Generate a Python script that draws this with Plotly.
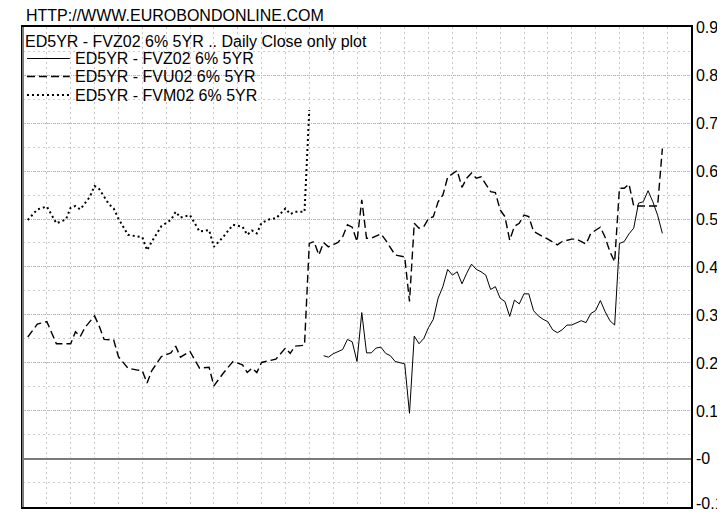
import plotly.graph_objects as go

# Trading-day index (x) and daily close values (y) for each series
fvz_days = [63, 64, 65, 66, 67, 68, 69, 70, 71, 72, 73, 74, 75, 76, 77, 78, 80, 81, 82, 83,
            84, 85, 86, 87, 88, 89, 90, 91, 92, 93, 94, 95, 96, 97, 98, 99, 100, 101, 102, 103,
            104, 105, 106, 107, 108, 109, 110, 111, 112, 113, 114, 115, 116, 117, 118, 119, 120,
            121, 122, 123, 124, 125, 126, 127, 128, 129, 130, 131, 132, 133, 134]
fvz_vals = [0.215, 0.212, 0.219, 0.224, 0.228, 0.249, 0.244, 0.203, 0.305, 0.221, 0.221, 0.231,
            0.233, 0.220, 0.215, 0.203, 0.198, 0.095, 0.256, 0.240, 0.251, 0.274, 0.291, 0.335,
            0.359, 0.395, 0.383, 0.390, 0.365, 0.387, 0.406, 0.395, 0.390, 0.383, 0.353, 0.359,
            0.335, 0.328, 0.297, 0.331, 0.323, 0.344, 0.344, 0.309, 0.298, 0.291, 0.286, 0.269,
            0.263, 0.269, 0.279, 0.279, 0.283, 0.288, 0.284, 0.303, 0.309, 0.330, 0.307, 0.288,
            0.279, 0.449, 0.453, 0.469, 0.481, 0.533, 0.536, 0.559, 0.536, 0.508, 0.470]

fvu_days = [1, 3, 5, 7, 10, 11, 12, 13, 15, 16, 17, 19, 20, 22, 24, 25, 26, 27, 29, 31, 32, 33,
            35, 37, 39, 40, 42, 44, 46, 47, 48, 49, 50, 53, 55, 56, 57, 59, 60, 61, 62, 63, 64,
            66, 67, 68, 69, 70, 71, 72, 73, 75, 76, 78, 80, 81, 82, 83, 84, 85, 86, 87, 88, 89,
            91, 92, 93, 94, 95, 96, 98, 99, 100, 101, 102, 103, 104, 105, 106, 107, 109, 110,
            112, 113, 115, 116, 118, 119, 121, 122, 123, 124, 125, 126, 127, 128, 133, 134]
fvu_vals = [0.254, 0.281, 0.286, 0.240, 0.240, 0.265, 0.255, 0.274, 0.298, 0.276, 0.249, 0.248,
            0.213, 0.189, 0.185, 0.184, 0.158, 0.184, 0.213, 0.221, 0.235, 0.212, 0.224, 0.189,
            0.191, 0.152, 0.179, 0.203, 0.196, 0.180, 0.189, 0.180, 0.201, 0.208, 0.231, 0.220,
            0.235, 0.237, 0.449, 0.453, 0.425, 0.451, 0.442, 0.451, 0.463, 0.488, 0.483, 0.453,
            0.540, 0.460, 0.460, 0.469, 0.456, 0.425, 0.421, 0.328, 0.491, 0.481, 0.484, 0.501,
            0.505, 0.536, 0.550, 0.587, 0.601, 0.566, 0.585, 0.596, 0.585, 0.588, 0.557, 0.555,
            0.519, 0.505, 0.456, 0.485, 0.491, 0.508, 0.505, 0.474, 0.463, 0.458, 0.446, 0.453,
            0.458, 0.458, 0.448, 0.470, 0.483, 0.462, 0.432, 0.411, 0.564, 0.564, 0.573, 0.527,
            0.527, 0.647]

fvm_days = [1, 3, 5, 7, 9, 10, 11, 12, 14, 15, 16, 17, 18, 19, 20, 22, 24, 25, 26, 27, 29, 31,
            32, 33, 35, 37, 39, 40, 42, 44, 46, 47, 48, 49, 50, 52, 53, 55, 56, 57, 59, 60]
fvm_vals = [0.498, 0.520, 0.526, 0.491, 0.499, 0.524, 0.527, 0.520, 0.546, 0.569, 0.562, 0.546,
            0.531, 0.522, 0.501, 0.467, 0.463, 0.462, 0.435, 0.453, 0.485, 0.498, 0.515, 0.503,
            0.508, 0.474, 0.477, 0.442, 0.463, 0.488, 0.484, 0.467, 0.476, 0.470, 0.492, 0.501,
            0.501, 0.522, 0.510, 0.515, 0.515, 0.727]

series_names = ["ED5YR - FVZ02 6% 5YR", "ED5YR - FVU02 6% 5YR", "ED5YR - FVM02 6% 5YR"]
y_ticks = [0.9, 0.8, 0.7, 0.6, 0.5, 0.4, 0.3, 0.2, 0.1, 0.0, -0.1]
y_tick_labels = ["0.9", "0.8", "0.7", "0.6", "0.5", "0.4", "0.3", "0.2", "0.1", "-0", "-0.1"]
site_title = "HTTP://WWW.EUROBONDONLINE.COM"
chart_title = "ED5YR - FVZ02 6% 5YR .. Daily Close only plot"

FONT = "Liberation Sans, Arial, sans-serif"
FS = 16
line_styles = [dict(color="black", width=1),
               dict(color="black", width=1.4, dash="8px,4px"),
               dict(color="black", width=2, dash="2px,3px")]

# page is drawn with an 8px body margin; plot area in page pixels: x 23..695, y 27..507
PL, PR, PT, PB = 23, 695, 27, 507
def px(x):
    return (x - PL) / (PR - PL)
def py(y):
    return (PB - y) / (PB - PT)

fig = go.Figure()
for d, v, nm, ls in zip([fvz_days, fvu_days, fvm_days], [fvz_vals, fvu_vals, fvm_vals],
                        series_names, line_styles):
    fig.add_trace(go.Scatter(x=d, y=v, mode="lines", name=nm, line=ls, showlegend=False))

fig.update_layout(
    width=717, height=506,
    margin=dict(l=15, r=30, t=19, b=7, pad=0),
    plot_bgcolor="white", paper_bgcolor="white",
    font=dict(family=FONT, size=FS, color="black"),
    showlegend=False,
    xaxis=dict(range=[0, 140], tick0=0, dtick=5, showticklabels=False, ticks="",
               showgrid=True, gridcolor="#c8c8c8", griddash="2px,3px", gridwidth=1,
               zeroline=False, showline=True, linecolor="black", linewidth=2, mirror=True),
    yaxis=dict(range=[-0.1003, 0.9002], side="right", tickmode="array", tickvals=y_ticks,
               ticktext=y_tick_labels, ticks="", showgrid=True, gridcolor="#b4b4b4",
               griddash="1px,1px", gridwidth=1,
               minor=dict(dtick=0.05, tick0=0, showgrid=True, gridcolor="#cccccc",
                          griddash="2px,3px", ticks=""),
               zeroline=True, zerolinecolor="#7a7a7a", zerolinewidth=2,
               showline=True, linecolor="black", linewidth=1.5, mirror=True,
               tickfont=dict(family=FONT, size=FS, color="black")),
)
fig.add_shape(type="line", xref="paper", yref="paper", x0=0, x1=0, y0=0, y1=1,
              line=dict(color="#7a7a7a", width=2))

# bottom tick label sits on the page edge, where plotly hides axis labels; draw it as text
fig.add_annotation(text=y_tick_labels[-1], xref="paper", yref="y", x=px(698), y=y_ticks[-1],
                   xanchor="left", yanchor="middle", yshift=3, showarrow=False,
                   font=dict(family=FONT, size=FS, color="black"))

# header text above the plot
fig.add_annotation(text=site_title, xref="paper", yref="paper", x=px(24), y=py(15.5),
                   xanchor="left", yanchor="middle", showarrow=False,
                   font=dict(family=FONT, size=FS, color="black"))
# in-plot legend
fig.add_annotation(text=chart_title, xref="paper", yref="paper", x=px(23), y=py(41.5),
                   xanchor="left", yanchor="middle", showarrow=False,
                   font=dict(family=FONT, size=FS, color="black"))
row_y = [58.5, 76.5, 95]
for nm, ls, ry in zip(series_names, line_styles, row_y):
    fig.add_shape(type="line", xref="paper", yref="paper", x0=px(27), x1=px(70),
                  y0=py(ry), y1=py(ry), line=ls)
    fig.add_annotation(text=nm, xref="paper", yref="paper", x=px(73), y=py(ry),
                       xanchor="left", yanchor="middle", showarrow=False,
                       font=dict(family=FONT, size=FS, color="black"))

fig.write_html("out.html")
